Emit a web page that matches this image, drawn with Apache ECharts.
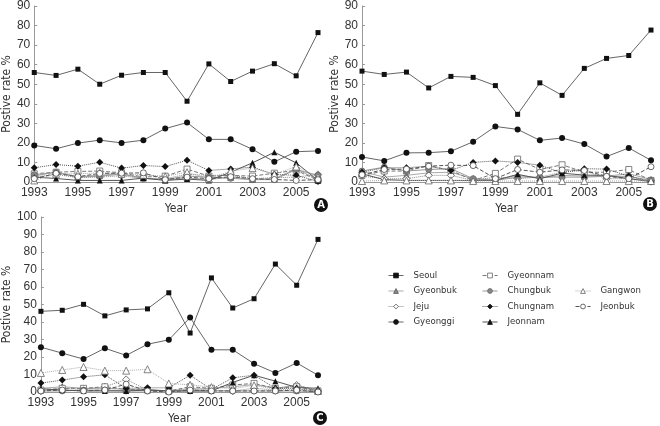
<!DOCTYPE html>
<html>
<head>
<meta charset="utf-8">
<script src="https://cdn.jsdelivr.net/npm/echarts@6/dist/echarts.min.js"></script>
<style>html,body{margin:0;padding:0;background:#fff}#c{width:660px;height:426px}</style>
</head>
<body>
<div id="c"></div>
<script>
const years = ['1993','1994','1995','1996','1997','1998','1999','2000','2001','2002','2003','2004','2005','2006'];
const regions = ['Seoul','Gyeonbuk','Jeju','Gyeonggi','Gyeonnam','Chungbuk','Chungnam','Jeonnam','Gangwon','Jeonbuk'];
const yTicksAB = [0, 90, 10];
const yTicksC = [0, 100, 10];

// Panel A
const A_Seoul    = [56, 54.5, 57.7, 50, 54.6, 56, 56, 41.3, 60.4, 51.4, 56.7, 60.5, 54.3, 76.4];
const A_Gyeonggi = [18.7, 17, 19.9, 21.4, 20, 21.4, 27.3, 30.4, 21.8, 21.8, 16.7, 10.3, 15.5, 15.9];
const A_Chungnam = [7.3, 8.9, 8.1, 10.1, 7.1, 8.4, 7.9, 11.1, 5.9, 6.7, 7.6, 3.9, 3.4, 0.3];
const A_Jeonnam  = [2.5, 1.8, 0.8, 0.8, 0.8, 2, 0.8, 1.5, 0.8, 5, 9.8, 15.2, 9.8, 0.8];
const A_Gyeonnam = [4.2, 5, 5.4, 5.6, 4.7, 2.5, 3, 6.6, 3, 3.4, 3, 4.5, 6, 0.8];
const A_Jeonbuk  = [1.7, 4.4, 2.7, 4.4, 4.5, 4.7, 1.2, 2.5, 1.7, 2.7, 1.7, 1.3, 0.8, 1.2];
const A_Gyeonbuk = [3, 5.2, 2.7, 3.5, 4.2, 2, 1, 2, 1.3, 2.4, 1.3, 1.7, 6.7, 1.3];
const A_Chungbuk = [3.7, 4.9, 2.5, 3, 4, 1.9, 1.3, 3, 2.5, 1.9, 1.2, 1.2, 6.4, 3.4];
const A_Jeju     = [2.5, 3.9, 2.2, 2.5, 3.2, 1.7, 1.7, 3.9, 3.4, 3.5, 1.7, 2.2, 2.5, 3.9];
const A_Gangwon  = [0.8, 4.2, 4.2, 4.7, 4.2, 3.7, 2.9, 5, 1.7, 5.6, 7.1, 3.9, 7.9, 2.5];

// Panel B
const B_Seoul    = [56.7, 55, 56.2, 48.1, 54, 53.5, 49.3, 34.6, 50.7, 44.3, 58.1, 63.2, 64.7, 77.7];
const B_Gyeonggi = [12.8, 10.8, 14.9, 15, 15.7, 20.6, 28.4, 26.9, 21.3, 22.5, 19.4, 13, 17.4, 11.1];
const B_Chungnam = [5, 7.3, 7.3, 8.1, 5.9, 10, 10.8, 10, 8.6, 4.7, 6.8, 6.6, 3, 0];
const B_Gyeonnam = [3.4, 5.6, 5.6, 8.4, 5.9, 0.8, 4.4, 11.7, 6.4, 8.8, 5, 5, 6.4, 0.8];
const B_Jeonbuk  = [3.7, 6.4, 6.6, 8.1, 8.6, 8.4, 1.7, 6.4, 5, 6.2, 5.9, 2.9, 1.7, 7.8];
const B_Jeonnam  = [4.2, 1.2, 0.8, 0.8, 0.8, 0.8, 0.8, 3.9, 1.7, 4.5, 3.5, 3.4, 1.7, 0.2];
const B_Gyeonbuk = [5.4, 2.5, 3.4, 4.7, 5, 1.7, 1.2, 3.4, 2, 3.4, 3, 3, 4.2, 1.3];
const B_Chungbuk = [5.6, 7.6, 5.6, 6.4, 6.8, 1.7, 0.8, 2.5, 2.5, 2.5, 2.5, 2.9, 2.9, 0.8];
const B_Jeju     = [3, 1.7, 1.7, 3.4, 3.4, 0.8, 2.5, 1.7, 2.5, 5, 5.9, 1.7, 1.7, 0.8];
const B_Gangwon  = [0.5, 0.8, 0.8, 0.8, 0.8, 0.5, 0.5, 0.5, 0.5, 0.5, 0.5, 0.5, 0.5, 0.5];

// Panel C
const C_Seoul    = [46.1, 46.7, 50.1, 43.5, 46.9, 47.5, 56.7, 33.7, 65.2, 48, 53.3, 73.1, 61, 87.2];
const C_Gyeonggi = [25.6, 22.2, 18.8, 25, 20.9, 27.3, 29.8, 42.6, 24.1, 24.1, 16.2, 10.9, 16.6, 9.6];
const C_Gangwon  = [10.9, 12.6, 14.3, 12.2, 12.2, 13, 4.9, 4.1, 2.8, 1.9, 3.8, 1.5, 1.5, 0.6];
const C_Chungnam = [5.1, 6.8, 8.7, 9.8, 2.1, 2.4, 2.4, 9.6, 1.5, 8.1, 9.6, 2.1, 2.1, 0.2];
const C_Jeonnam  = [1.9, 1.1, 0.6, 0.6, 0.6, 1.1, 0.6, 0.6, 0.6, 5.5, 9.6, 6.2, 2.6, 2.1];
const C_Jeju     = [0.6, 2.1, 1.5, 3, 7.2, 1.1, 0.6, 2.1, 1.1, 0.6, 2.1, 1.1, 4, 0.6];
const C_Jeonbuk  = [0.6, 1.1, 0.6, 1.1, 4.5, 0.6, 0, 1.1, 0.6, 0.6, 0.6, 0.6, 1.1, 0];
const C_Gyeonnam = [1.1, 2.1, 2.1, 3, 1.5, 1.1, 0.6, 3, 2.1, 4, 4.9, 2.1, 3, 0.6];
const C_Gyeonbuk = [2.1, 3, 2.1, 2.1, 1.5, 1.5, 0.6, 1.5, 2.1, 3, 4.3, 2.1, 4, 0.6];
const C_Chungbuk = [0.6, 0.6, 1.1, 1.1, 0.6, 0.6, 0.6, 0.6, 0.6, 0.6, 0.6, 0.6, 0.6, 0.2];

const panelData = [
  {Seoul:A_Seoul, Gyeonbuk:A_Gyeonbuk, Jeju:A_Jeju, Gyeonggi:A_Gyeonggi, Gyeonnam:A_Gyeonnam, Chungbuk:A_Chungbuk, Chungnam:A_Chungnam, Jeonnam:A_Jeonnam, Gangwon:A_Gangwon, Jeonbuk:A_Jeonbuk},
  {Seoul:B_Seoul, Gyeonbuk:B_Gyeonbuk, Jeju:B_Jeju, Gyeonggi:B_Gyeonggi, Gyeonnam:B_Gyeonnam, Chungbuk:B_Chungbuk, Chungnam:B_Chungnam, Jeonnam:B_Jeonnam, Gangwon:B_Gangwon, Jeonbuk:B_Jeonbuk},
  {Seoul:C_Seoul, Gyeonbuk:C_Gyeonbuk, Jeju:C_Jeju, Gyeonggi:C_Gyeonggi, Gyeonnam:C_Gyeonnam, Chungbuk:C_Chungbuk, Chungnam:C_Chungnam, Jeonnam:C_Jeonnam, Gangwon:C_Gangwon, Jeonbuk:C_Jeonbuk}
];

const NARROW = '"Liberation Sans Narrow","DejaVu Sans Condensed",Arial,sans-serif';
const REG = '"Liberation Sans",Arial,sans-serif';
const styles = {
  Seoul:    {symbol:'rect', size:5, color:'#111', line:'#666', type:'solid', bw:0},
  Gyeonbuk: {symbol:'triangle', size:6, color:'#8a8a8a', border:'#555', line:'#aaa', type:'solid', bw:0.8},
  Jeju:     {symbol:'diamond', size:7, color:'#fff', border:'#555', line:'#888', type:'dotted', bw:0.8},
  Gyeonggi: {symbol:'circle', size:6, color:'#111', line:'#666', type:'solid', bw:0},
  Gyeonnam: {symbol:'rect', size:6, color:'#fff', border:'#666', line:'#777', type:'dashed', bw:0.8},
  Chungbuk: {symbol:'circle', size:6, color:'#888', border:'#666', line:'#999', type:'solid', bw:0.8},
  Chungnam: {symbol:'diamond', size:7, color:'#111', line:'#555', type:'dotted', bw:0},
  Jeonnam:  {symbol:'triangle', size:6, color:'#111', line:'#555', type:'solid', bw:0},
  Gangwon:  {symbol:'triangle', size:7, color:'#fff', border:'#666', line:'#aaa', type:'dotted', bw:0.8},
  Jeonbuk:  {symbol:'circle', size:6, color:'#fff', border:'#444', line:'#555', type:'dashed', bw:0.8}
};

const grids = [
  {left:31, right:342, top:4, bottom:244},
  {left:362, right:9, top:4, bottom:244},
  {left:31, right:342, top:217, bottom:32}
];
const axisLineColor = '#999';
const xAxes = grids.map((g,i)=>({
  type:'category', gridIndex:i, data:years, boundaryGap:false,
  axisLine:{lineStyle:{color:axisLineColor, width:1}},
  axisTick:{show:false},
  axisLabel:{interval:1, color:'#333', fontSize:12, fontFamily:REG, margin:5},
  name:'Year', nameLocation:'middle', nameGap:21,
  nameTextStyle:{color:'#333', fontSize:12, fontFamily:NARROW}
}));
const yAxes = grids.map((g,i)=>{
  const t = i===2 ? yTicksC : yTicksAB;
  return {
    type:'value', gridIndex:i, min:t[0], max:t[1], interval:t[2],
    axisLine:{show:true, lineStyle:{color:axisLineColor, width:1}},
    axisTick:{show:true, inside:true, length:3, lineStyle:{color:axisLineColor}},
    splitLine:{show:false},
    axisLabel:{color:'#333', fontSize:12, fontFamily:REG, margin:4},
    name:'Postive rate %', nameLocation:'middle', nameGap:i===2?23:21,
    nameTextStyle:{color:'#333', fontSize:12, fontFamily:NARROW}
  };
});

const series = [];
panelData.forEach((pd,i)=>{
  regions.forEach(r=>{
    const s = styles[r];
    series.push({
      name:r, type:'line', xAxisIndex:i, yAxisIndex:i, data:pd[r],
      symbol:s.symbol, symbolSize:s.size, showAllSymbol:true,
      lineStyle:{color:s.line, width:1, type:s.type},
      itemStyle:{color:s.color, borderColor:s.border||s.color, borderWidth:s.bw},
      emphasis:{disabled:true}, animation:false, z: (r==='Seoul'||r==='Gyeonggi')?3:2
    });
  });
});

const legendBase = {
  orient:'vertical', itemWidth:15, itemHeight:6, itemGap:4.5,
  itemStyle:{borderWidth:0.8},
  lineStyle:{width:1},
  textStyle:{color:'#333', fontSize:9.5, fontFamily:NARROW, padding:[0,0,0,5], lineHeight:11},
  selectedMode:false
};
const option = {
  backgroundColor:'#fff',
  animation:false,
  grid:grids,
  xAxis:xAxes,
  yAxis:yAxes,
  legend:[
    Object.assign({}, legendBase, {left:383, top:265, data:['Seoul','Gyeonbuk','Jeju','Gyeonggi']}),
    Object.assign({}, legendBase, {left:477, top:265, data:['Gyeonnam','Chungbuk','Chungnam','Jeonnam']}),
    Object.assign({}, legendBase, {left:570, top:280.5, data:['Gangwon','Jeonbuk']})
  ],
  graphic:[
    ['A',321,205],['B',650,204],['C',320,418]
  ].map(([t,x,y])=>({
    type:'group', left:x-7, top:y-7, children:[
      {type:'circle', shape:{cx:7, cy:7, r:7}, style:{fill:'#111'}},
      {type:'text', style:{text:t, x:7, y:7.5, fill:'#fff', fontSize:10, fontWeight:'bold', fontFamily:'DejaVu Sans,Arial,sans-serif', align:'center', verticalAlign:'middle'}}
    ]
  })),
  series:series
};
const chart = echarts.init(document.getElementById('c'), null, {renderer:'canvas'});
chart.setOption(option);
</script>
</body>
</html>
